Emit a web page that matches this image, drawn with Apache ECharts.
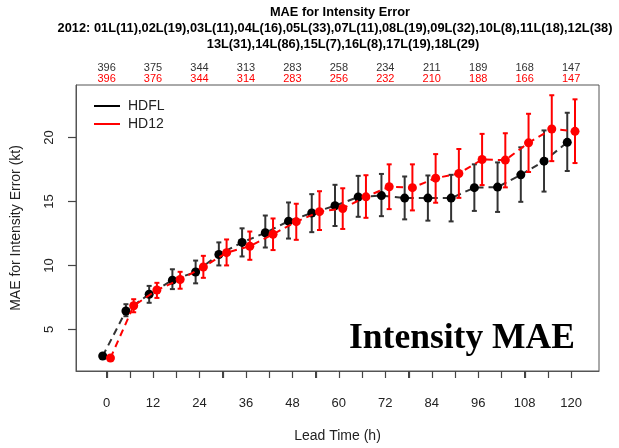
<!DOCTYPE html>
<html>
<head>
<meta charset="utf-8">
<script src="https://cdn.jsdelivr.net/npm/echarts@6/dist/echarts.min.js"></script>
<style>html,body{margin:0;padding:0;background:#fff}#c{width:619px;height:448px}</style>
</head>
<body>
<div id="c"></div>
<script>
// ---- data ----
const leadHours = [0,6,12,18,24,30,36,42,48,54,60,66,72,78,84,90,96,102,108,114,120];
const hdflMean = [2.92,6.44,7.75,8.85,9.49,10.85,11.8,12.55,13.46,14.1,14.66,15.35,15.46,15.26,15.26,15.26,16.08,16.12,17.08,18.15,19.62];
const hdflLow  = [2.78,6.03,7.08,8.15,8.6,10.0,10.7,11.4,12.1,12.6,13.08,13.8,13.85,13.6,13.5,13.44,14.26,14.18,14.97,15.77,17.38];
const hdflHigh = [3.06,6.97,8.4,9.7,10.38,11.8,12.9,13.9,14.92,15.57,16.3,17.0,17.15,16.95,17.03,17.08,17.9,18.05,19.23,20.55,21.93];
const hd12Mean = [2.77,6.85,8.08,8.9,9.88,11.0,11.5,12.44,13.42,14.2,14.45,15.36,16.15,16.08,16.82,17.18,18.28,18.23,19.58,20.66,20.48];
const hd12Low  = [2.63,6.34,7.46,8.18,9.03,10.0,10.44,11.2,12.0,12.77,12.85,13.72,14.4,14.3,14.9,15.28,16.28,16.1,17.3,18.15,18.0];
const hd12High = [2.91,7.36,8.64,9.5,10.75,12.03,12.65,13.67,14.82,15.8,16.03,17.05,17.9,17.9,18.7,19.1,20.28,20.33,21.85,23.3,22.98];
const countHours = [0,12,24,36,48,60,72,84,96,108,120];
const hdflCounts = [396,375,344,313,283,258,234,211,189,168,147];
const hd12Counts = [396,376,344,314,283,256,232,210,188,166,147];
const xTickValues = [0,6,12,18,24,30,36,42,48,54,60,66,72,78,84,90,96,102,108,114,120];
const xLabelValues = [0,12,24,36,48,60,72,84,96,108,120];
const yTickValues = [5,10,15,20];
const seriesNames = ['HDFL','HD12'];
const titleText = 'MAE for Intensity Error';
const subtitleLine1 = '2012: 01L(11),02L(19),03L(11),04L(16),05L(33),07L(11),08L(19),09L(32),10L(8),11L(18),12L(38)';
const subtitleLine2 = '13L(31),14L(86),15L(7),16L(8),17L(19),18L(29)';
const stampText = 'Intensity MAE';

// ---- build ----
const FONT = '"Liberation Sans", Arial, Helvetica, sans-serif';
const X_MIN = -7.9, X_MAX = 127.2, Y_MIN = 1.75, Y_MAX = 24.1;
const offset = 1;
const hdflPts = leadHours.map((h,i)=>[h-offset, hdflMean[i]]);
const hd12Pts = leadHours.map((h,i)=>[h+offset, hd12Mean[i]]);
const hdflErr = leadHours.map((h,i)=>[h-offset, hdflLow[i], hdflHigh[i]]);
const hd12Err = leadHours.map((h,i)=>[h+offset, hd12Low[i], hd12High[i]]);

function errRenderer(color){
  return function(params, api){
    const x = api.value(0);
    const p1 = api.coord([x, api.value(1)]);
    const p2 = api.coord([x, api.value(2)]);
    const w = 2.5;
    const st = {stroke: color, lineWidth: 2};
    return {type:'group', children:[
      {type:'line', shape:{x1:p1[0], y1:p1[1], x2:p2[0], y2:p2[1]}, style:st},
      {type:'line', shape:{x1:p1[0]-w, y1:p1[1], x2:p1[0]+w, y2:p1[1]}, style:st},
      {type:'line', shape:{x1:p2[0]-w, y1:p2[1], x2:p2[0]+w, y2:p2[1]}, style:st}
    ]};
  };
}

const countMap = {};
countHours.forEach((h,i)=>{ countMap[h] = [hdflCounts[i], hd12Counts[i]]; });

const chart = echarts.init(document.getElementById('c'), null, {renderer:'canvas'});
chart.setOption({
  animation: false,
  backgroundColor: '#fff',
  textStyle: {fontFamily: FONT},
  title: [
    {text: titleText, left: 335, top: 1, textAlign: 'center',
     textStyle: {fontFamily: FONT, fontSize: 12.8, fontWeight: 'bold', color: '#000'}},
    {text: subtitleLine1, left: 330, top: 17, textAlign: 'center',
     textStyle: {fontFamily: FONT, fontSize: 12.8, fontWeight: 'bold', color: '#000'}},
    {text: subtitleLine2, left: 338, top: 33, textAlign: 'center',
     textStyle: {fontFamily: FONT, fontSize: 12.8, fontWeight: 'bold', color: '#000'}}
  ],
  legend: {
    data: seriesNames, orient: 'vertical', left: 89, top: 93,
    icon: 'rect', itemWidth: 26, itemHeight: 2, itemGap: 2,
    textStyle: {fontFamily: FONT, fontSize: 14, color: '#222', lineHeight: 16, padding:[0,0,0,3]}
  },
  grid: {left: 76, right: 20, top: 85, bottom: 73, show: true, borderColor: '#555', borderWidth: 1, containLabel: false},
  xAxis: [{
    type: 'value', min: X_MIN, max: X_MAX,
    name: 'Lead Time (h)', nameLocation: 'middle', nameGap: 58,
    nameTextStyle: {fontFamily: FONT, fontSize: 14, color: '#222'},
    axisLine: {show: true, lineStyle: {color: '#555', width: 1}},
    axisTick: {show: true, customValues: xTickValues, length: 7, lineStyle: {color: '#444', width: 1}},
    axisLabel: {customValues: xLabelValues, fontSize: 13, color: '#222', margin: 26, fontFamily: FONT},
    splitLine: {show: false}
  },{
    type: 'value', min: X_MIN, max: X_MAX, position: 'top',
    axisLine: {show: false}, axisTick: {show: false}, splitLine: {show: false},
    axisLabel: {
      customValues: countHours, margin: 1, fontFamily: FONT,
      formatter: function(v){ const c = countMap[v]; return c ? '{a|' + c[0] + '}\n{b|' + c[1] + '}' : ''; },
      rich: {a: {fontSize: 11, color: '#333', lineHeight: 11, fontFamily: FONT},
             b: {fontSize: 11, color: '#ff0000', lineHeight: 11, fontFamily: FONT}}
    }
  },{
    type: 'value', min: 1, max: 2, show: false
  }],
  yAxis: {
    type: 'value', min: Y_MIN, max: Y_MAX, position: 'left',
    name: 'MAE for Intensity Error (kt)', nameLocation: 'middle', nameGap: 53,
    nameTextStyle: {fontFamily: FONT, fontSize: 14, color: '#222'},
    axisLine: {show: true, onZeroAxisIndex: 2, lineStyle: {color: '#555', width: 1}},
    axisTick: {show: true, customValues: yTickValues, length: 8, lineStyle: {color: '#444', width: 1}},
    axisLabel: {customValues: yTickValues, rotate: 90, fontSize: 13, color: '#222', margin: 20, fontFamily: FONT},
    splitLine: {show: false}
  },
  series: [
    {type: 'custom', name: 'hdflErr', data: hdflErr, renderItem: errRenderer('#333'), encode: {x: 0, y: [1,2]}, z: 2, clip: false},
    {type: 'line', name: 'HDFL', data: hdflPts, symbol: 'circle', symbolSize: 9, showSymbol: true, z: 3,
     itemStyle: {color: '#000'}, lineStyle: {color: '#333', width: 2, type: [7,5]}},
    {type: 'custom', name: 'hd12Err', data: hd12Err, renderItem: errRenderer('#ff0000'), encode: {x: 0, y: [1,2]}, z: 4, clip: false},
    {type: 'line', name: 'HD12', data: hd12Pts, symbol: 'circle', symbolSize: 9, showSymbol: true, z: 5,
     itemStyle: {color: '#ff0000'}, lineStyle: {color: '#ff0000', width: 2, type: [7,5]}}
  ]
});

// tick marks positioned through the chart's own axis scales
const tickEls = [];
xTickValues.forEach(v => {
  const p = chart.convertToPixel({gridIndex: 0}, [v, Y_MIN]);
  if (!p || !isFinite(p[0])) return;
  const x = Math.round(p[0]) + 0.5, y = Math.round(p[1]);
  tickEls.push({type: 'line', shape: {x1: x, y1: y, x2: x, y2: y + 7}, style: {stroke: '#444', lineWidth: 1.2}, z: 10});
});
yTickValues.forEach(v => {
  const p = chart.convertToPixel({gridIndex: 0}, [X_MIN, v]);
  if (!p || !isFinite(p[0])) return;
  const x = Math.round(p[0]), y = Math.round(p[1]) + 0.5;
  tickEls.push({type: 'line', shape: {x1: x - 8, y1: y, x2: x, y2: y}, style: {stroke: '#444', lineWidth: 1.2}, z: 10});
});
tickEls.push({
  type: 'text', left: 349, top: 321, z: 100,
  style: {text: stampText, fontFamily: '"Liberation Serif", "Times New Roman", serif', fontWeight: 'bold', fontSize: 35.5, fill: '#000'}
});
chart.setOption({graphic: tickEls});
</script>
</body>
</html>
